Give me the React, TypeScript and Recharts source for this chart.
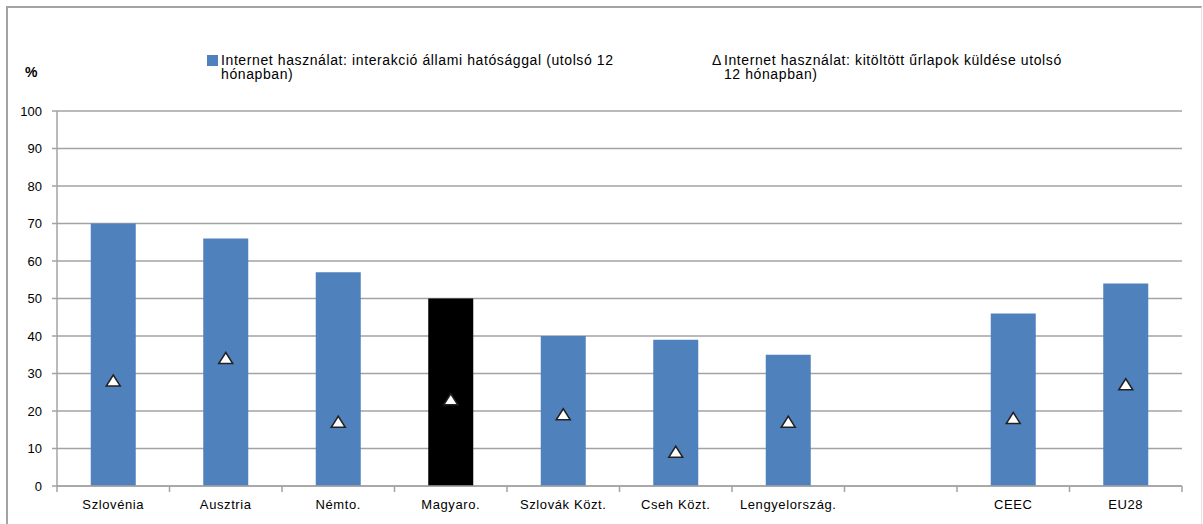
import React from 'react';
import { ComposedChart, Bar, Scatter, Cell, XAxis, YAxis, CartesianGrid } from 'recharts';

// országok / aggregátumok (a CEEC előtti üres hely szándékos)
const categories = ['Szlovénia', 'Ausztria', 'Némto.', 'Magyaro.', 'Szlovák Közt.', 'Cseh Közt.', 'Lengyelország.', '', 'CEEC', 'EU28'];
const interaction = [70, 66, 57, 50, 40, 39, 35, null, 46, 54];
const forms = [28, 34, 17, 23, 19, 9, 17, null, 18, 27];
const yTicks = [0, 10, 20, 30, 40, 50, 60, 70, 80, 90, 100];
const highlight = 'Magyaro.';

const legendBar = 'Internet használat: interakció állami hatósággal (utolsó 12';
const legendBar2 = 'hónapban)';
const legendTri = 'Internet használat: kitöltött űrlapok küldése utolsó';
const legendTri2 = '12 hónapban)';

const data = categories.map((name, i) => ({ name, interaction: interaction[i], forms: forms[i] }));

const W = 1203;
const H = 524;
const X_H = 30;
const margin = { top: 111, right: 21, bottom: 38 - X_H, left: 7 };
const Y_W = 50;
const BAND = (W - margin.left - margin.right - Y_W) / categories.length;

const BLUE = '#4F81BD';
const GRID = '#a3a3a3';
const FONT = '"Liberation Sans", Arial, sans-serif';

const XTick = (props: any) => {
  const { x, y, payload, index } = props;
  const left = x - BAND / 2;
  const right = x + BAND / 2;
  return (
    <g>
      <line x1={left} x2={left} y1={y} y2={y + 6} stroke={GRID} strokeWidth={1.5} />
      {index === categories.length - 1 && (
        <line x1={right} x2={right} y1={y} y2={y + 6} stroke={GRID} strokeWidth={1.5} />
      )}
      <text x={x} y={y + 23} textAnchor="middle" fontSize={13} letterSpacing={0.6} fill="#000" fontFamily={FONT}>
        {payload.value}
      </text>
    </g>
  );
};

const Triangle = (props: any) => {
  const { cx, cy } = props;
  if (!Number.isFinite(cx) || !Number.isFinite(cy)) return <g />;
  return (
    <polygon
      points={`${cx},${cy - 6} ${cx - 7},${cy + 5} ${cx + 7},${cy + 5}`}
      fill="#fff"
      stroke="#222"
      strokeWidth={1.5}
    />
  );
};

const legendText = { fontSize: 14, lineHeight: '14px', letterSpacing: 0.6, display: 'flex' } as const;

export default function App() {
  return (
    <div style={{ position: 'absolute', left: 0, top: 0, width: W, height: H, background: '#fff', fontFamily: FONT }}>
      <div style={{ position: 'absolute', left: 6, top: 6, width: W - 10, height: H, borderLeft: `2px solid ${GRID}`, borderTop: `2px solid ${GRID}`, borderRight: '1px solid #e4e4e4' }} />
      <div style={{ position: 'absolute', left: 25, top: 64, fontSize: 14, fontWeight: 'bold' }}>%</div>

      <div style={{ position: 'absolute', left: 207, top: 53, ...legendText }}>
        <span style={{ display: 'inline-block', width: 11, height: 11, background: BLUE, marginTop: 2, marginRight: 3 }} />
        <span>
          {legendBar}
          <br />
          {legendBar2}
        </span>
      </div>
      <div style={{ position: 'absolute', left: 712, top: 53, ...legendText }}>
        <span style={{ marginRight: 2 }}>Δ</span>
        <span>
          {legendTri}
          <br />
          {legendTri2}
        </span>
      </div>

      <ComposedChart width={W} height={H} data={data} margin={margin} barCategoryGap="30%" style={{ position: 'absolute', left: 0, top: 0 }}>
        <CartesianGrid vertical={false} stroke={GRID} strokeWidth={1.5} />
        <XAxis
          dataKey="name"
          height={X_H}
          tickLine={false}
          tickSize={0}
          tickMargin={0}
          interval={0}
          axisLine={{ stroke: GRID, strokeWidth: 1.5 }}
          tick={<XTick />}
        />
        <YAxis
          domain={[0, 100]}
          ticks={yTicks}
          width={Y_W}
          tickSize={5}
          tickMargin={10}
          tickLine={{ stroke: GRID, strokeWidth: 1.5 }}
          axisLine={{ stroke: GRID, strokeWidth: 1.5 }}
          tick={{ fontSize: 13, fill: '#000', fontFamily: FONT }}
          interval={0}
        />
        <Bar dataKey="interaction" fill={BLUE} isAnimationActive={false}>
          {data.map((d, i) => (
            <Cell key={i} fill={d.name === highlight ? '#000' : BLUE} />
          ))}
        </Bar>
        <Scatter dataKey="forms" shape={<Triangle />} isAnimationActive={false} />
      </ComposedChart>
    </div>
  );
}
